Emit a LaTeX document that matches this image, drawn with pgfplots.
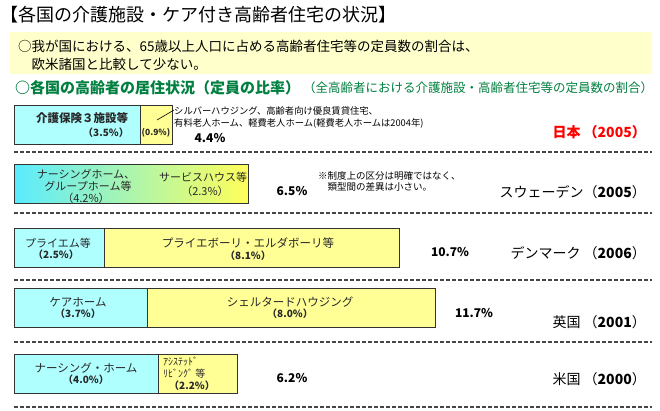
\documentclass[border=0pt]{standalone}
\usepackage{pgfplots}
\pgfplotsset{compat=1.18}
\usepackage{fontspec}
\setmainfont{Noto Sans CJK JP}
\definecolor{cyanbar}{RGB}{175,255,255}
\definecolor{yelbar}{RGB}{255,255,150}
\definecolor{swcyan}{RGB}{90,235,255}
\definecolor{swyel}{RGB}{255,255,90}
\definecolor{hdgreen}{RGB}{0,128,64}
\definecolor{boxyel}{RGB}{255,255,204}
\definecolor{txt}{RGB}{40,40,40}
\definecolor{dashc}{RGB}{70,70,70}
\newcommand\fs[1]{\fontsize{#1}{#1}\selectfont}
\begin{document}
\begin{tikzpicture}[x=1pt,y=1pt]
\useasboundingbox (0,0) rectangle (660,410);
\fill[white] (0,0) rectangle (660,410);
\fill[boxyel] (10,410-32) rectangle (652,410-74);
\begin{axis}[at={(0,0)},anchor=south west,width=660pt,height=410pt,scale only axis,
  hide axis,clip=false,xmin=-0.38889,xmax=17.94444,ymin=0,ymax=410,y dir=reverse]
% totals (yellow segment drawn as full bar, cyan segment on top)
\addplot[xbar,bar shift=0pt,bar width=39,fill=yelbar,draw=black!80,line width=0.9pt]
  coordinates {(4.4,124.5) (10.7,248) (11.7,307.5) (6.2,374)};
\addplot[xbar,bar shift=0pt,bar width=39,fill=cyanbar,draw=black!80,line width=0.9pt]
  coordinates {(3.5,124.5) (2.5,248) (3.7,307.5) (4.0,374)};
% Sweden: 4.2 + 2.3 = 6.5, no clear boundary
\addplot[xbar,bar shift=0pt,bar width=39,left color=swcyan,right color=swyel,draw=black!80,line width=0.9pt]
  coordinates {(6.5,183.5)};
\end{axis}
% title
\node[anchor=west,inner sep=0,font=\fs{18}] at (0,410-15) {【各国の介護施設・ケア付き高齢者住宅の状況】};
\node[anchor=west,inner sep=0,font=\fs{13.5}] at (18,410-46) {○我が国における、65歳以上人口に占める高齢者住宅等の定員数の割合は、};
\node[anchor=west,inner sep=0,font=\fs{13.5}] at (18,410-64) {　欧米諸国と比較して少ない。};
\node[anchor=west,inner sep=0,font=\fs{15}\bfseries,text=hdgreen] at (15,410-88) {○各国の高齢者の居住状況（定員の比率）};
\node[anchor=west,inner sep=0,font=\fs{12.5},text=hdgreen] at (303,410-88) {（全高齢者における介護施設・高齢者住宅等の定員数の割合）};
% notes
\node[anchor=west,inner sep=0,font=\fs{9.3}] at (174,410-111) {シルバーハウジング、高齢者向け優良賃貸住宅、};
\node[anchor=west,inner sep=0,font=\fs{9.3}] at (174,410-123) {有料老人ホーム、軽費老人ホーム(軽費老人ホームは2004年)};
\draw[line width=0.6pt] (157,410-120) -- (174,410-110);
\node[anchor=west,inner sep=0,font=\fs{9.5}] at (318,410-176) {※制度上の区分は明確ではなく、};
\node[anchor=west,inner sep=0,font=\fs{9.5}] at (318,410-187) {　類型間の差異は小さい。};
% dashed separators
\foreach \yy in {152,213,280,342,407}
  \draw[dashc,line width=1.3pt,dash pattern=on 4pt off 2pt] (14,410-\yy) -- (652,410-\yy);
% inner labels
\begin{scope}[every node/.style={inner sep=0,text=txt}]
\node[font=\fs{11.5}\bfseries] at (82,410-118) {介護保険３施設等};
\node[font=\fs{10}\bfseries] at (106,410-133) {（3.5\%）};
\node[font=\fs{8.5}\bfseries] at (156,410-133) {(0.9\%)};
\node[font=\fs{11}] at (86,410-174) {ナーシングホーム、};
\node[font=\fs{11}] at (88,410-186) {グループホーム等};
\node[font=\fs{11}] at (86,410-198) {（4.2\%）};
\node[font=\fs{11}] at (203,410-177) {サービスハウス等};
\node[font=\fs{11}] at (205,410-191) {（2.3\%）};
\node[font=\fs{11}] at (58,410-243) {プライエム等};
\node[font=\fs{10}\bfseries] at (56,410-255) {（2.5\%）};
\node[font=\fs{11.5}] at (248,410-243) {プライエボーリ・エルダボーリ等};
\node[font=\fs{10}\bfseries] at (248,410-256) {（8.1\%）};
\node[font=\fs{11.5}] at (78,410-302) {ケアホーム};
\node[font=\fs{10}\bfseries] at (78,410-314) {（3.7\%）};
\node[font=\fs{11.5}] at (290,410-302) {シェルタードハウジング};
\node[font=\fs{10}\bfseries] at (290,410-314) {（8.0\%）};
\node[font=\fs{11.5}] at (86,410-368) {ナーシング・ホーム};
\node[font=\fs{10}\bfseries] at (86,410-380) {（4.0\%）};
\node[anchor=west,font=\fs{10}] at (163,410-362) {ｱｼｽﾃｯﾄﾞ};
\node[anchor=west,font=\fs{10}] at (163,410-374) {ﾘﾋﾞﾝｸﾞ 等};
\node[font=\fs{10}\bfseries] at (192,410-386) {（2.2\%）};
\end{scope}
% totals
\begin{scope}[every node/.style={inner sep=0,font=\fs{12}\bfseries}]
\node at (210,410-138) {4.4\%};
\node at (292,410-191) {6.5\%};
\node at (450,410-252) {10.7\%};
\node at (474,410-313) {11.7\%};
\node at (292,410-378) {6.2\%};
\end{scope}
% country labels
\begin{scope}[every node/.style={inner sep=0,anchor=east,font=\fs{14}}]
\node[text=red,font=\fs{14}\bfseries] at (646,410-132) {日本 （2005）};
\node at (646,410-192) {スウェーデン（\textbf{2005}）};
\node at (646,410-253) {デンマーク （\textbf{2006}）};
\node at (646,410-322) {英国 （\textbf{2001}）};
\node at (646,410-379) {米国 （\textbf{2000}）};
\end{scope}
\end{tikzpicture}
\end{document}
